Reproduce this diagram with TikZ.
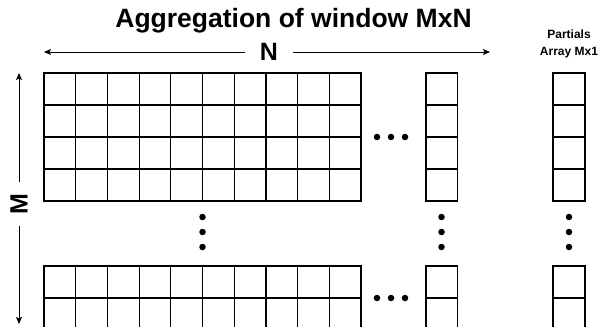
\documentclass[tikz,border=0pt]{standalone}
\usepackage{fontspec}
\setmainfont{Liberation Sans}
\usetikzlibrary{arrows.meta}
\begin{document}
\begin{tikzpicture}[x=1pt,y=-1pt,
  cell/.style={draw=black,line width=1.2pt},
  arr/.style={-{Stealth[length=7pt,width=6pt,inset=1.5pt]},line width=0.9pt},
  dotm/.style={circle,fill=black,inner sep=0pt,minimum size=6.5pt},
  lab/.style={font=\bfseries\fontsize{25}{30}\selectfont,inner ysep=0pt}]
\clip (0,0) rectangle (601,326);
% title
\node[font=\bfseries\fontsize{26.5}{32}\selectfont,anchor=base,inner sep=0pt] (title) at (293.5,28) {Aggregation of window MxN};
% N arrow
\node[lab,inner xsep=15pt] (N) at (269,52) {N};
\coordinate (nl) at (44,52);
\coordinate (nr) at (490,52);
\draw[arr] (N) -- (nl);
\draw[arr] (N) -- (nr);
% M arrow
\node[lab,rotate=90,inner xsep=11pt] (M) at (19,204) {M};
\coordinate (mt) at (19,73);
\coordinate (mb) at (19,324);
\draw[arr] (M) -- (mt);
\draw[arr] (M) -- (mb);
% partials label
\node[font=\bfseries\fontsize{12}{17}\selectfont,align=center,inner sep=0pt] (P) at (569,43.5) {Partials\\Array Mx1};
% top grid
\foreach \i in {0,...,9}
  \foreach \j in {0,...,3}
    \draw[cell] ({44+31.7*\i},{73+32*\j}) rectangle ++(31.7,32);
\foreach \j in {0,...,3} {
  \draw[cell] (426,{73+32*\j}) rectangle ++(31.5,32);
  \draw[cell] (553,{73+32*\j}) rectangle ++(32,32);
}
% bottom grid
\foreach \i in {0,...,9}
  \foreach \j in {0,...,1}
    \draw[cell] ({44+31.7*\i},{266+32*\j}) rectangle ++(31.7,32);
\foreach \j in {0,...,1} {
  \draw[cell] (426,{266+32*\j}) rectangle ++(31.5,32);
  \draw[cell] (553,{266+32*\j}) rectangle ++(32,32);
}
% horizontal dots
\foreach \x in {377,391,405} {
  \node[dotm] at (\x,137) {};
  \node[dotm] at (\x,298) {};
}
% vertical dots
\foreach \y in {217,232,247} {
  \node[dotm] at (202.5,\y) {};
  \node[dotm] at (441.5,\y) {};
  \node[dotm] at (569,\y) {};
}
\end{tikzpicture}
\end{document}
